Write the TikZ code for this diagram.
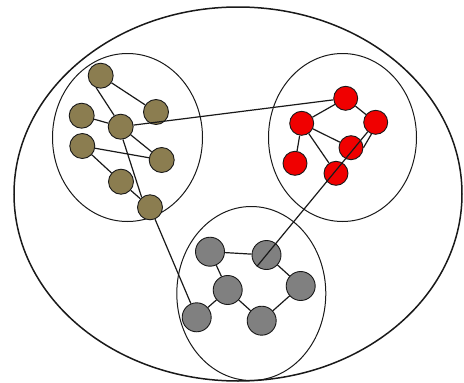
\documentclass[tikz,border=0pt]{standalone}
\definecolor{olivefill}{RGB}{139,125,80}
\definecolor{redfill}{RGB}{240,0,0}
\definecolor{grayfill}{RGB}{128,128,128}
\definecolor{ink}{RGB}{25,25,25}
\tikzset{
  olivenode/.style={circle, draw=ink, line width=0.9pt, fill=olivefill, minimum size=25pt, inner sep=0pt},
  rednode/.style={circle, draw=ink, line width=0.9pt, fill=redfill, minimum size=24pt, inner sep=0pt},
  graynode/.style={circle, draw=ink, line width=0.9pt, fill=grayfill, minimum size=29pt, inner sep=0pt},
  edge/.style={draw=ink, line width=1.2pt},
  region/.style={draw=ink, line width=1pt},
  outer/.style={draw=ink, line width=1.5pt}
}
\begin{document}
\begin{tikzpicture}[x=1pt,y=-1pt]
\useasboundingbox (0,0) rectangle (464,383);
% outer and group ellipses
\path[outer] (238,194) ellipse [x radius=224, y radius=187];
\path[region] (127.5,137.5) ellipse [x radius=75, y radius=84];
\path[region] (342.5,137.5) ellipse [x radius=74, y radius=84];
\path[region] (251.3,293.5) ellipse [x radius=74.5, y radius=87];
% olive nodes
\node[olivenode] (A) at (100.7,75.7) {};
\node[olivenode] (B) at (156,112) {};
\node[olivenode] (C) at (81.7,115.7) {};
\node[olivenode] (D) at (120.7,126.7) {};
\node[olivenode] (E) at (82.3,146) {};
\node[olivenode] (F) at (161.7,160) {};
\node[olivenode] (G) at (121,181.7) {};
\node[olivenode] (H) at (150,207.3) {};
% red nodes
\node[rednode] (R1) at (345.7,98.3) {};
\node[rednode] (R2) at (301.7,123.3) {};
\node[rednode] (R3) at (375.7,122.3) {};
\node[rednode] (R4) at (351,147.7) {};
\node[rednode] (R5) at (295,163.3) {};
\node[rednode] (R6) at (336,173.3) {};
% gray nodes
\node[graynode] (G1) at (210,251.7) {};
\node[graynode] (G2) at (266.5,255) {};
\node[graynode] (G3) at (300.7,286) {};
\node[graynode] (G4) at (227.7,290) {};
\node[graynode] (G5) at (196.7,317.3) {};
\node[graynode] (G6) at (261.7,320.7) {};
% olive edges
\path[edge] (A) -- (B);
\path[edge] (A.250) -- (D.120);
\path[edge] (C) -- (D);
\path[edge] (D) -- (F);
\path[edge] (D.280) -- (H.130);
\path[edge] (E) -- (F);
\path[edge] (E) -- (G);
\path[edge] (G) -- (H);
% red edges
\path[edge] (R1) -- (R2);
\path[edge] (R1) -- (R3);
\path[edge] (R2) -- (R4);
\path[edge] (R2) -- (R5);
\path[edge] (R2) -- (R6);
\path[edge] (R4.east) -- (R3.250);
% gray edges
\path[edge] (G1) -- (G2);
\path[edge] (G1) -- (G4);
\path[edge] (G4) -- (G5);
\path[edge] (G4) -- (G6);
\path[edge] (G2) -- (G3);
\path[edge] (G3) -- (G6);
% links between groups
\path[edge] (D) -- (R1);
\path[edge] (H) -- (G5);
\path[edge] (G2.230) -- (R3.230);
\end{tikzpicture}
\end{document}
